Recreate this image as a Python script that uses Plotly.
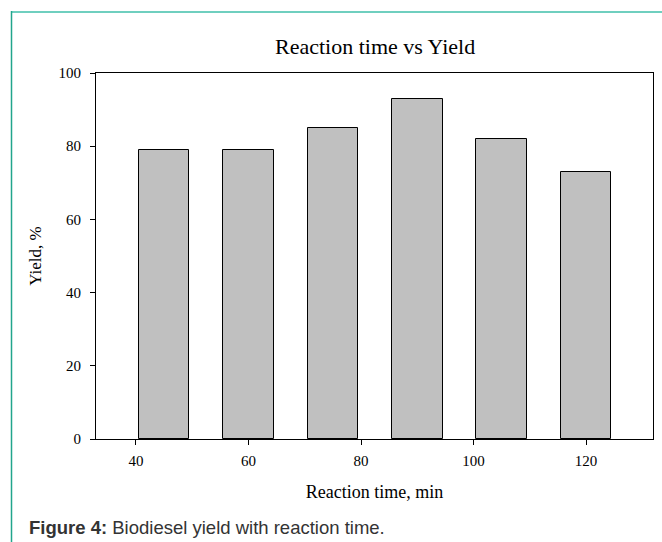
import plotly.graph_objects as go

# Data
reaction_time = [45, 60, 75, 90, 105, 120]
yield_pct = [79, 79, 85, 93, 82, 73]
x_ticks = [40, 60, 80, 100, 120]
y_ticks = [0, 20, 40, 60, 80, 100]

W, H = 662, 542
L, R, T, B = 96, 9, 73, 103
pw = W - L - R
ph = H - T - B


def px(x):
    return (x - L) / pw


def py(y):
    return (H - B - y) / ph


serif = "Liberation Serif"
tick_font = dict(family=serif, size=15, color="#000000")

fig = go.Figure()
fig.add_trace(go.Bar(
    x=reaction_time, y=yield_pct, width=9,
    marker=dict(color="#c0c0c0", line=dict(color="#000000", width=1)),
    showlegend=False,
))

axis_common = dict(
    showline=True, linecolor="#000000", linewidth=1, mirror=True,
    ticks="outside", ticklen=5, tickcolor="#000000", tickwidth=1,
    showgrid=False, zeroline=False,
)

fig.update_layout(
    width=W, height=H,
    margin=dict(l=L, r=R, t=T, b=B, autoexpand=False),
    paper_bgcolor="white", plot_bgcolor="white",
    font=dict(family=serif, color="#000000"),
    bargap=0,
    xaxis=dict(range=[32.9, 131.9], tickvals=x_ticks,
               ticktext=[str(v) for v in x_ticks],
               tickfont=tick_font,
               title=dict(text="Reaction time, min", standoff=17,
                          font=dict(family=serif, size=18, color="#000000")),
               ticklabelstandoff=3,
               **axis_common),
    yaxis=dict(range=[0, 100], tickvals=y_ticks,
               ticktext=[str(v) for v in y_ticks],
               tickfont=tick_font,
               title=dict(text="Yield, %", standoff=12,
                          font=dict(family=serif, size=17, color="#000000")),
               ticklabelstandoff=6,
               **axis_common),
    annotations=[
        dict(text="Reaction time vs Yield", x=px(374.5), y=py(47),
             xref="paper", yref="paper", xanchor="center", yanchor="middle",
             showarrow=False, font=dict(family=serif, size=22, color="#000000")),
        dict(text="<b>Figure 4:</b> Biodiesel yield with reaction time.",
             x=px(27), y=py(527), xref="paper", yref="paper",
             xanchor="left", yanchor="middle", showarrow=False,
             font=dict(family="Liberation Sans", size=18.5,
                       color="#333333")),
    ],
    shapes=[
        dict(type="line", xref="paper", yref="paper",
             x0=px(11), x1=px(662), y0=py(12), y1=py(12),
             line=dict(color="#6fcfbf", width=2)),
        dict(type="line", xref="paper", yref="paper",
             x0=px(11.5), x1=px(11.5), y0=py(11), y1=py(542),
             line=dict(color="#22a58c", width=1.5)),
    ],
)

fig.write_html("out.html", config={"displayModeBar": False},
               post_script="document.body.style.margin='0px';document.body.style.overflow='hidden';")
